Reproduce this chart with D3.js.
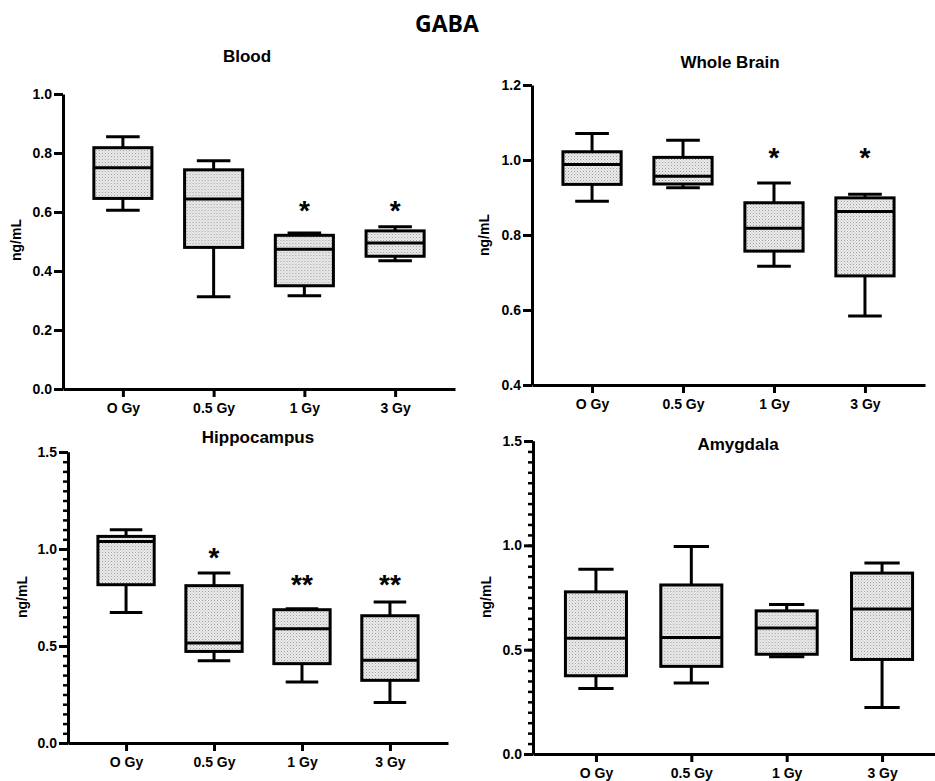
<!DOCTYPE html>
<html lang="en">
<head>
    <meta charset="UTF-8">
    <title>GABA box plots</title>
    <script src="https://d3js.org/d3.v7.min.js"></script>
    <style>
        body { margin: 0; background: #fff; }
        svg text { font-family: "Liberation Sans", Arial, sans-serif; font-weight: bold; fill: #000; }
        .axis path, .axis line { stroke: #000; stroke-width: 3; }
        .axis text { font-size: 14px; }
        .xaxis text { font-size: 14px; }
    </style>
</head>
<body>
    <div id="chart"></div>

    <script>
        // groups (note the reference uses the letter O in "O Gy")
        const groups = ["O Gy", "0.5 Gy", "1 Gy", "3 Gy"];

        // box stats per group: [min, q1, median, q3, max]
        const bloodStats = [
            [0.606, 0.646, 0.750, 0.818, 0.855],
            [0.313, 0.480, 0.644, 0.743, 0.774],
            [0.316, 0.350, 0.474, 0.521, 0.529],
            [0.435, 0.450, 0.495, 0.536, 0.550]
        ];
        const brainStats = [
            [0.890, 0.935, 0.988, 1.022, 1.071],
            [0.926, 0.936, 0.957, 1.007, 1.053],
            [0.717, 0.757, 0.818, 0.886, 0.939],
            [0.584, 0.691, 0.863, 0.899, 0.909]
        ];
        const hippoStats = [
            [0.673, 0.816, 1.039, 1.065, 1.099],
            [0.424, 0.472, 0.515, 0.811, 0.876],
            [0.314, 0.409, 0.589, 0.687, 0.692],
            [0.209, 0.323, 0.426, 0.656, 0.727]
        ];
        const amygStats = [
            [0.314, 0.375, 0.555, 0.777, 0.885],
            [0.340, 0.420, 0.558, 0.810, 0.994],
            [0.466, 0.478, 0.604, 0.686, 0.716],
            [0.223, 0.453, 0.695, 0.867, 0.915]
        ];

        // significance marks and the level they sit at
        const bloodStars = ["", "", "*", "*"];
        const bloodStarLevel = [0, 0, 0.625, 0.625];
        const brainStars = ["", "", "*", "*"];
        const brainStarLevel = [0, 0, 1.022, 1.022];
        const hippoStars = ["", "*", "**", "**"];
        const hippoStarLevel = [0, 0.985, 0.847, 0.847];
        const amygStars = ["", "", "", ""];
        const amygStarLevel = [0, 0, 0, 0];

        // tick labels
        const bloodTicks = [0, 0.2, 0.4, 0.6, 0.8, 1.0];
        const brainTicks = [0.4, 0.6, 0.8, 1.0, 1.2];
        const halfTicks = [0, 0.5, 1.0, 1.5];
        const minorTicks = d3.range(0, 1.5001, 0.05);

        const W = 935, H = 781;

        const svg = d3.select("#chart").append("svg")
            .attr("width", W)
            .attr("height", H);

        // fine dotted fill used inside the boxes
        const pat = svg.append("defs").append("pattern")
            .attr("id", "dots")
            .attr("patternUnits", "userSpaceOnUse")
            .attr("width", 3).attr("height", 3);
        pat.append("rect").attr("width", 3).attr("height", 3).attr("fill", "#ececec");
        pat.append("rect").attr("x", 0).attr("y", 0).attr("width", 1).attr("height", 1).attr("fill", "#9c9c9c");
        pat.append("rect").attr("x", 1.5).attr("y", 1.5).attr("width", 1).attr("height", 1).attr("fill", "#b4b4b4");

        svg.append("text")
            .attr("x", 447).attr("y", 32)
            .attr("text-anchor", "middle")
            .style("font-family", "'Open Sans', sans-serif")
            .style("font-size", "23px")
            .text("GABA");

        const panels = [
            { title: "Blood", stats: bloodStats, stars: bloodStars, starLevel: bloodStarLevel,
              domain: [0, 1], ticks: bloodTicks, minor: null,
              x0: 63, x1: 455, yTop: 94, yBot: 389, tx: 247, ty: 62, lx: 16, ly: 240 },
            { title: "Whole Brain", stats: brainStats, stars: brainStars, starLevel: brainStarLevel,
              domain: [0.4, 1.2], ticks: brainTicks, minor: null,
              x0: 532, x1: 925, yTop: 85, yBot: 385, tx: 730, ty: 68, lx: 484, ly: 235 },
            { title: "Hippocampus", stats: hippoStats, stars: hippoStars, starLevel: hippoStarLevel,
              domain: [0, 1.5], ticks: halfTicks, minor: minorTicks,
              x0: 68, x1: 448, yTop: 452, yBot: 743, tx: 258, ty: 443, lx: 22, ly: 597 },
            { title: "Amygdala", stats: amygStats, stars: amygStars, starLevel: amygStarLevel,
              domain: [0, 1.5], ticks: halfTicks, minor: minorTicks,
              x0: 533, x1: 945, yTop: 441, yBot: 754, tx: 738, ty: 450, lx: 486, ly: 597 }
        ];

        panels.forEach(p => drawPanel(p));

        function drawPanel(p) {
            const g = svg.append("g");

            const x = d3.scalePoint().domain(groups).range([p.x0, p.x1]).padding(0.66);
            const y = d3.scaleLinear().domain(p.domain).range([p.yBot, p.yTop]);
            const step = x.step();
            const boxW = step * 0.64;
            const capW = step * 0.37;

            // title and y label
            g.append("text")
                .attr("x", p.tx).attr("y", p.ty)
                .attr("text-anchor", "middle")
                .style("font-size", "17px")
                .text(p.title);

            g.append("text")
                .attr("transform", `translate(${p.lx},${p.ly}) rotate(-90)`)
                .attr("text-anchor", "middle")
                .attr("dy", "0.35em")
                .style("font-size", "14px")
                .text("ng/mL");

            // minor ticks first so the main axis sits on top
            if (p.minor) {
                g.append("g")
                    .attr("class", "axis")
                    .attr("transform", `translate(${p.x0},0)`)
                    .call(d3.axisLeft(y).tickValues(p.minor).tickSize(5).tickSizeOuter(0).tickFormat(""))
                    .call(a => a.selectAll("line").style("stroke-width", 2.5));
            }

            g.append("g")
                .attr("class", "axis")
                .attr("transform", `translate(${p.x0},0)`)
                .call(d3.axisLeft(y).tickValues(p.ticks).tickSize(9).tickSizeOuter(0)
                    .tickPadding(2).tickFormat(d3.format(".1f")));

            g.append("g")
                .attr("class", "axis xaxis")
                .attr("transform", `translate(0,${p.yBot})`)
                .call(d3.axisBottom(x).tickSize(8).tickSizeOuter(0).tickPadding(6));

            // boxes
            const box = g.selectAll(".box")
                .data(p.stats.map((s, i) => ({ s, grp: groups[i], star: p.stars[i], lvl: p.starLevel[i] })))
                .enter().append("g")
                .attr("class", "box")
                .attr("transform", d => `translate(${x(d.grp)},0)`);

            const line = (sel, x1, y1, x2, y2) => sel.append("line")
                .attr("x1", x1).attr("y1", y1).attr("x2", x2).attr("y2", y2)
                .attr("stroke", "#000").attr("stroke-width", 3);

            box.each(function (d) {
                const b = d3.select(this);
                const [mn, q1, md, q3, mx] = d.s;
                line(b, 0, y(mx), 0, y(q3));
                line(b, 0, y(q1), 0, y(mn));
                line(b, -capW / 2, y(mx), capW / 2, y(mx));
                line(b, -capW / 2, y(mn), capW / 2, y(mn));
                b.append("rect")
                    .attr("x", -boxW / 2).attr("width", boxW)
                    .attr("y", y(q3)).attr("height", y(q1) - y(q3))
                    .attr("fill", "url(#dots)")
                    .attr("stroke", "#000").attr("stroke-width", 3);
                line(b, -boxW / 2, y(md), boxW / 2, y(md));

                if (d.star) {
                    b.append("text")
                        .attr("x", 0).attr("y", y(d.lvl) + 15)
                        .attr("text-anchor", "middle")
                        .style("font-size", "28px")
                        .text(d.star);
                }
            });
        }
    </script>
</body>
</html>
